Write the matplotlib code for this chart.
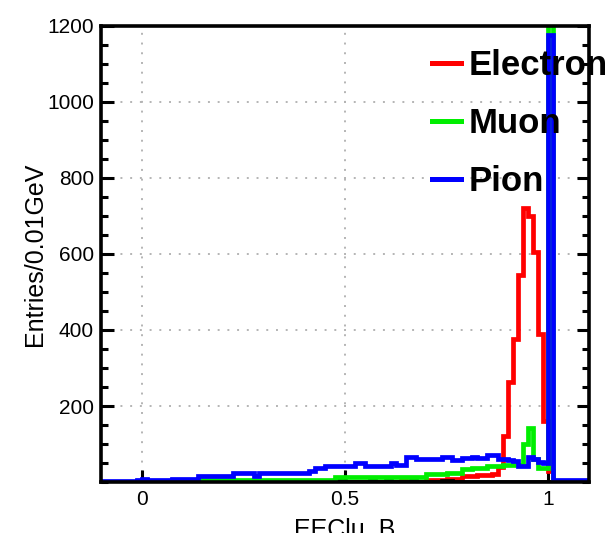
import numpy as np
import matplotlib
matplotlib.use("Agg")
import matplotlib.pyplot as plt
from matplotlib.lines import Line2D
from matplotlib.ticker import MultipleLocator, FixedLocator

plt.rcParams['font.family'] = ['Liberation Sans', 'DejaVu Sans']

# ---- data (bin width 0.0125, range -0.1 .. 1.1) ----
bin_edges = np.round(np.arange(-0.1, 1.1 + 1e-9, 0.0125), 4)

electron = [
    0, 0, 0, 0, 0, 0, 0, 0, 0, 0, 0, 0, 0, 0, 0, 0, 0, 0, 0, 0,
    0, 0, 0, 0, 0, 0, 0, 0, 0, 0, 0, 0, 0, 0, 0, 0, 0, 0, 0, 0,
    0, 0, 0, 0, 0, 0, 0, 0, 0, 0, 0, 0, 0, 0, 0, 0, 0, 0, 0, 6,
    0, 0, 0, 0, 6, 6, 6, 6, 8, 8, 8, 17, 17, 17, 19, 19, 19, 22, 40, 120,
    262, 377, 544, 721, 699, 606, 390, 160, 30, 0, 0, 0, 0, 0, 0, 0]

muon = [
    0, 0, 0, 0, 0, 0, 0, 0, 0, 0, 0, 0, 0, 0, 0, 3, 0, 0, 5, 5,
    5, 5, 5, 5, 5, 5, 5, 5, 5, 5, 5, 6, 6, 6, 6, 6, 6, 6, 6, 6,
    6, 6, 6, 6, 6, 6, 12, 12, 12, 12, 12, 12, 12, 12, 12, 12, 12, 14, 14, 14,
    14, 14, 14, 14, 21, 21, 21, 21, 23, 23, 23, 33, 33, 38, 38, 38, 41, 41, 41, 46,
    46, 46, 46, 99, 142, 60, 37, 37, 1300, 0, 0, 0, 0, 0, 0, 0]

pion = [
    2, 2, 2, 2, 2, 2, 2, 6, 8, 4, 4, 4, 4, 4, 9, 9, 9, 9, 9, 17,
    17, 17, 17, 17, 17, 17, 23, 23, 23, 23, 17, 23, 25, 25, 25, 25, 25, 25, 25, 25,
    25, 30, 37, 37, 42, 42, 42, 42, 42, 42, 50, 50, 42, 42, 42, 42, 42, 50, 44, 44,
    67, 67, 61, 61, 61, 61, 61, 65, 65, 57, 57, 63, 63, 67, 62, 62, 70, 70, 60, 60,
    58, 56, 42, 42, 65, 60, 52, 50, 1175, 6, 6, 6, 6, 6, 6, 6]

other = [
    0, 0, 0, 0, 0, 0, 0, 0, 0, 0, 0, 0, 0, 0, 0, 0, 0, 0, 0, 0,
    0, 0, 0, 0, 0, 0, 0, 0, 0, 0, 0, 0, 0, 0, 0, 0, 0, 0, 0, 0,
    0, 0, 0, 0, 0, 0, 3, 3, 0, 0, 0, 0, 0, 2, 0, 0, 2, 0, 0, 0,
    0, 2, 0, 0, 0, 0, 0, 2, 2, 0, 0, 0, 0, 0, 0, 0, 0, 0, 0, 0,
    0, 0, 0, 0, 0, 0, 0, 0, 0, 0, 0, 0, 0, 0, 0, 0]

series_labels = ["Electron", "Muon", "Pion"]
series_colors = ["#ff0000", "#00ee00", "#0000ff"]
x_ticks = [0, 0.5, 1]
x_tick_labels = ["0", "0.5", "1"]
y_ticks = [200, 400, 600, 800, 1000, 1200]

# ---- figure ----
fig = plt.figure(figsize=(6.08, 5.33), dpi=100)
ax = fig.add_axes([101 / 608, 1 - 482 / 533, 488 / 608, 456 / 533])

lw = 3.4
ax.stairs(electron, bin_edges, color=series_colors[0], lw=lw, zorder=2.0)
ax.stairs(other, bin_edges, color="black", lw=lw, zorder=2.1)
ax.stairs(muon, bin_edges, color=series_colors[1], lw=lw, zorder=2.2)
ax.stairs(pion, bin_edges, color=series_colors[2], lw=lw, zorder=2.3)

ax.set_xlim(-0.1, 1.1)
ax.set_ylim(0, 1200)

ax.xaxis.set_major_locator(FixedLocator(x_ticks))
ax.set_xticklabels(x_tick_labels)
ax.yaxis.set_major_locator(FixedLocator(y_ticks))
ax.yaxis.set_minor_locator(MultipleLocator(50))

ax.set_axisbelow(True)
ax.grid(True, which="major", linestyle=(0, (1, 4)), color="#b4b4b4", lw=1.4)

for s in ax.spines.values():
    s.set_linewidth(2.6)

ax.tick_params(axis="x", which="major", direction="in", length=9, width=2.2,
               labelsize=15, pad=6, top=False)
ax.tick_params(axis="y", which="major", direction="in", length=9, width=2.2,
               labelsize=15, pad=5, right=True)
ax.tick_params(axis="y", which="minor", direction="in", length=5, width=2.2,
               right=True)
ax.tick_params(axis="x", which="minor", bottom=False, top=False)

fig.text(35 / 608, 1 - 254 / 533, "Entries/0.01GeV", rotation=90,
         ha="center", va="center", fontsize=18)
fig.text(345 / 608, 1 - 518 / 533, "EEClu_B", ha="center", va="top", fontsize=18)

handles = [Line2D([], [], color=c, lw=3.6) for c in series_colors]
leg = ax.legend(handles, series_labels, loc="upper left",
                bbox_to_anchor=(0.678, 0.950), frameon=False,
                prop={"weight": "bold", "size": 25}, handlelength=0.85,
                handletextpad=0.2, labelspacing=0.72, borderpad=0,
                borderaxespad=0)
leg.set_zorder(5)

fig.savefig("out.png", dpi=100)
